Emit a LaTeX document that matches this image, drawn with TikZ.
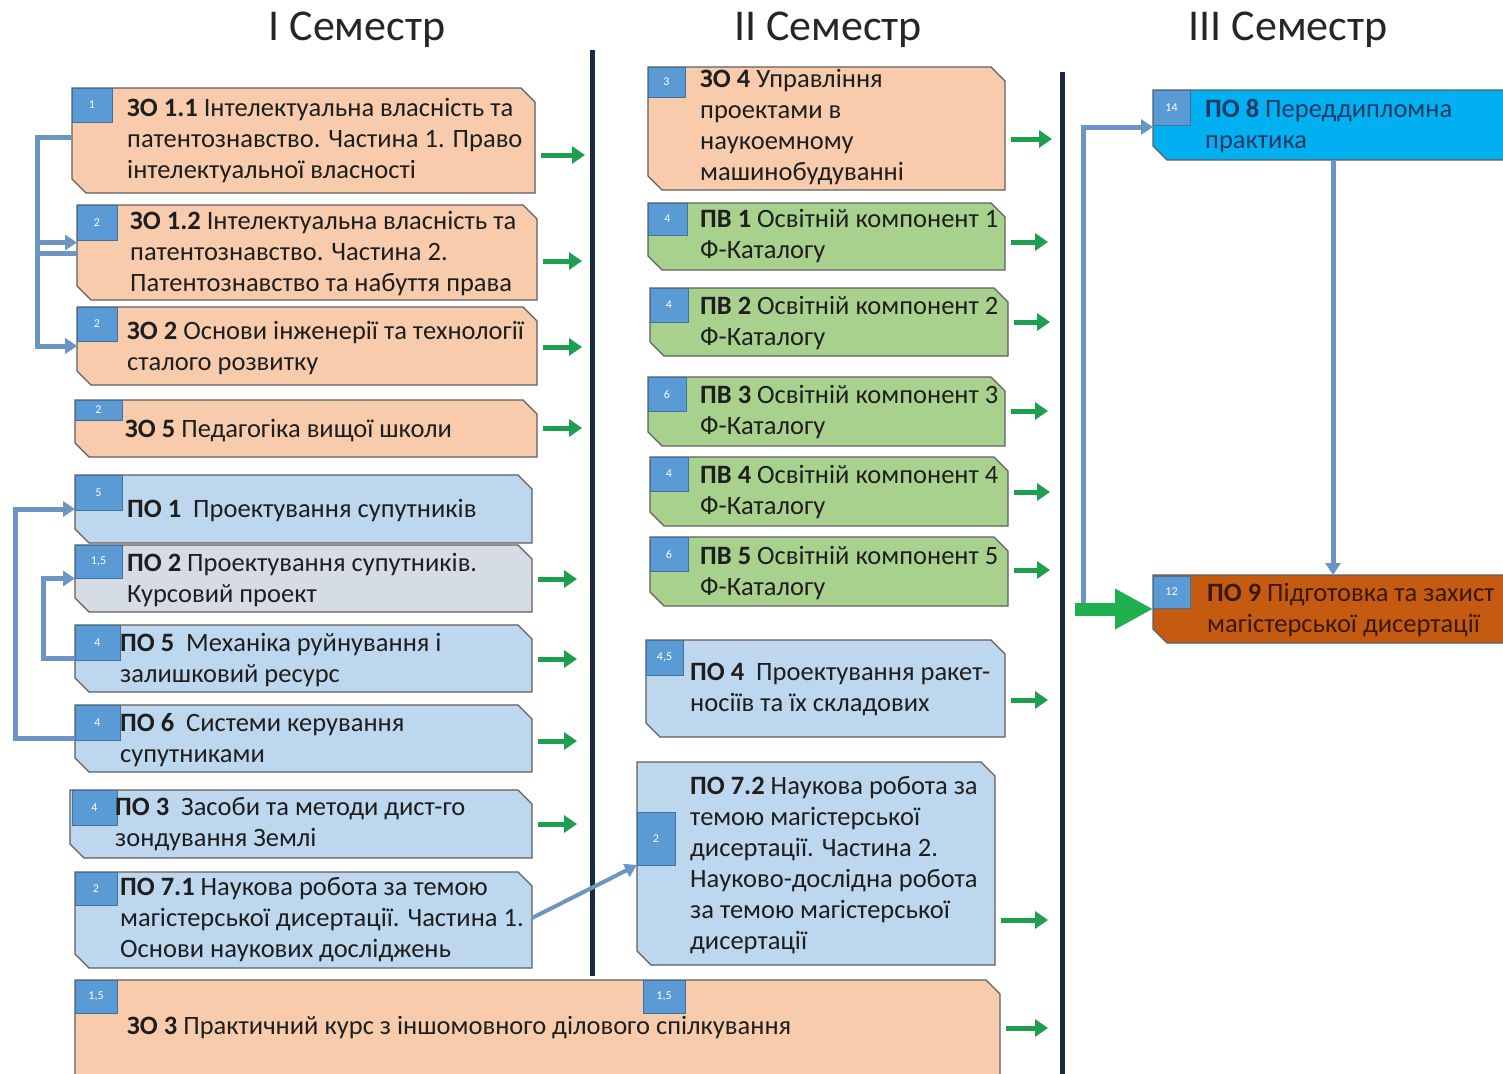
\documentclass[tikz,border=0pt]{standalone}
\usepackage{fontspec}
\setmainfont{Carlito}
\usetikzlibrary{arrows.meta,calc}
\definecolor{peach}{HTML}{F8CBAD}
\definecolor{poblue}{HTML}{BDD7EE}
\definecolor{pogrey}{HTML}{D5DCE5}
\definecolor{pvgreen}{HTML}{A9D18E}
\definecolor{brightblue}{HTML}{00B0F0}
\definecolor{darkorange}{HTML}{C55A11}
\definecolor{tabblue}{HTML}{5B9BD5}
\definecolor{tabedge}{HTML}{41719C}
\definecolor{edgegrey}{HTML}{5F5F5F}
\definecolor{connblue}{HTML}{6C95C3}
\definecolor{arrowgreen}{HTML}{1E9E4E}
\definecolor{biggreen}{HTML}{1DB04C}
\definecolor{dividercol}{HTML}{1B2A41}
\definecolor{txtdark}{HTML}{1E1E1E}
\definecolor{navytxt}{HTML}{1F3864}
\definecolor{browntxt}{HTML}{3A1804}
\tikzset{
 boxbase/.style={anchor=north west, inner sep=0pt, outer sep=0pt, draw=none},
 boxshape/.style={draw=edgegrey, line width=1.3pt, line join=miter},
 tabnode/.style={anchor=north west, inner sep=0pt, outer sep=0pt, fill=tabblue, draw=tabedge, line width=0.8pt, text=white, font=\fontsize{12}{12}\selectfont},
 txt/.style={anchor=west, inner sep=0pt, align=left, text=txtdark, font=\fontsize{26.5}{31}\selectfont},
 hdr/.style={inner sep=0pt, text=black!85, font=\fontsize{44}{48}\selectfont},
 garrow/.style={draw=arrowgreen, line width=5pt, -{Triangle[length=13pt,width=17pt]}},
 conn/.style={draw=connblue, line width=5pt, -{Triangle[length=12pt,width=15pt]}},
 thinconn/.style={draw=connblue, line width=4pt, -{Triangle[length=12pt,width=14pt]}},
 bigarrow/.style={draw=biggreen, line width=13pt, -{Triangle[length=38pt,width=38pt]}},
 divline/.style={draw=dividercol, line width=5pt},
}
\newcommand\chbox[6]{%
  \node[boxbase, minimum width=#4pt, minimum height=#5pt] (#1) at (#2,#3) {};
  \path[boxshape, fill=#6] (#1.north west) -- ([xshift=-14pt]#1.north east) -- ([yshift=-14pt]#1.north east) -- (#1.south east) -- ([xshift=14pt]#1.south west) -- ([yshift=14pt]#1.south west) -- cycle;}
\newcommand\tabbox[6]{%
  \node[tabnode, minimum width=#4pt, minimum height=#5pt] (#1) at (#2,#3) {#6};}
\newcommand\garr[3]{%
  \coordinate (#1e) at (#2,#3);
  \draw[garrow] (#1.east |- #1e) ++(6pt,0) -- (#1e);}
\begin{document}
\begin{tikzpicture}[x=1pt,y=-1pt]
\useasboundingbox (0,0) rectangle (1503,1073);
\clip (0,0) rectangle (1503,1073);
\fill[white] (0,0) rectangle (1503,1073);

% headers
\node[hdr] (h1) at (357,30) {I Семестр};
\node[hdr] (h2) at (828,30) {II Семестр};
\node[hdr] (h3) at (1288,30) {III Семестр};

% dividers
\coordinate (d1a) at (592,50); \coordinate (d1b) at (592,976);
\coordinate (d2a) at (1062,72); \coordinate (d2b) at (1062,1080);
\draw[divline] (d1a) -- (d1b);
\draw[divline] (d2a) -- (d2b);

% ---------- column 1 ----------
\chbox{b11}{72}{88}{463}{105}{peach}
\tabbox{t11}{72}{88}{40}{34}{1}
\node[txt] (x11) at (127,141) {\textbf{ЗО 1.1} Інтелектуальна власність та\\патентознавство. Частина 1. Право\\інтелектуальної власності};

\chbox{b12}{77}{205}{460}{95}{peach}
\tabbox{t12}{77}{205}{40}{35}{2}
\node[txt] (x12) at (130,254) {\textbf{ЗО 1.2} Інтелектуальна власність та\\патентознавство. Частина 2.\\Патентознавство та набуття права};

\chbox{b2}{77}{307}{460}{78}{peach}
\tabbox{t2}{77}{307}{40}{34}{2}
\node[txt] (x2) at (127,348) {\textbf{ЗО 2} Основи інженерії та технології\\сталого розвитку};

\chbox{b5}{75}{400}{462}{57}{peach}
\tabbox{t5}{75}{400}{47}{20}{2}
\node[txt] (x5) at (125,431) {\textbf{ЗО 5} Педагогіка вищої школи};

\chbox{p1}{75}{475}{457}{68}{poblue}
\tabbox{tp1}{75}{475}{47}{35}{5}
\node[txt] (xp1) at (127,511) {\textbf{ПО 1}\ \ Проектування супутників};

\chbox{p2}{75}{545}{457}{67}{pogrey}
\tabbox{tp2}{75}{545}{47}{33}{1,5}
\node[txt] (xp2) at (127,580) {\textbf{ПО 2} Проектування супутників.\\Курсовий проект};

\chbox{p5}{75}{625}{457}{67}{poblue}
\tabbox{tp5}{75}{625}{45}{35}{4}
\node[txt] (xp5) at (120,660) {\textbf{ПО 5}\ \ Механіка руйнування і\\залишковий ресурс};

\chbox{p6}{75}{705}{457}{67}{poblue}
\tabbox{tp6}{75}{705}{45}{35}{4}
\node[txt] (xp6) at (120,740) {\textbf{ПО 6}\ \ Системи керування\\супутниками};

\chbox{p3}{70}{790}{462}{68}{poblue}
\tabbox{tp3}{72}{790}{45}{35}{4}
\node[txt] (xp3) at (115,824) {\textbf{ПО 3}\ \ Засоби та методи дист-го\\зондування Землі};

\chbox{p71}{75}{872}{457}{96}{poblue}
\tabbox{tp71}{75}{872}{42}{33}{2}
\node[txt] (xp71) at (120,920) {\textbf{ПО 7.1} Наукова робота за темою\\магістерської дисертації. Частина 1.\\Основи наукових досліджень};

\chbox{z3}{75}{980}{925}{110}{peach}
\tabbox{tz3a}{75}{980}{42}{33}{1,5}
\tabbox{tz3b}{643}{980}{42}{33}{1,5}
\node[txt] (xz3) at (127,1028) {\textbf{ЗО 3} Практичний курс з іншомовного ділового спілкування};

% ---------- column 2 ----------
\chbox{z4}{648}{67}{357}{123}{peach}
\tabbox{tz4}{648}{67}{37}{30}{3}
\node[txt] (xz4) at (700,127) {\textbf{ЗО 4} Управління\\проектами в\\наукоемному\\машинобудуванні};

\chbox{v1}{648}{203}{357}{67}{pvgreen}
\tabbox{tv1}{648}{203}{39}{32}{4}
\node[txt] (xv1) at (700,236) {\textbf{ПВ 1} Освітній компонент 1\\Ф-Каталогу};

\chbox{v2}{650}{288}{358}{68}{pvgreen}
\tabbox{tv2}{650}{288}{38}{34}{4}
\node[txt] (xv2) at (700,323) {\textbf{ПВ 2} Освітній компонент 2\\Ф-Каталогу};

\chbox{v3}{648}{377}{357}{69}{pvgreen}
\tabbox{tv3}{648}{377}{38}{34}{6}
\node[txt] (xv3) at (700,412) {\textbf{ПВ 3} Освітній компонент 3\\Ф-Каталогу};

\chbox{v4}{650}{457}{358}{69}{pvgreen}
\tabbox{tv4}{650}{457}{38}{34}{4}
\node[txt] (xv4) at (700,492) {\textbf{ПВ 4} Освітній компонент 4\\Ф-Каталогу};

\chbox{v5}{650}{537}{358}{69}{pvgreen}
\tabbox{tv5}{650}{537}{38}{34}{6}
\node[txt] (xv5) at (700,573) {\textbf{ПВ 5} Освітній компонент 5\\Ф-Каталогу};

\chbox{p4}{646}{640}{359}{97}{poblue}
\tabbox{tp4}{646}{640}{37}{35}{4,5}
\node[txt] (xp4) at (690,689) {\textbf{ПО 4}\ \ Проектування ракет-\\носіїв та їх складових};

\chbox{p72}{637}{762}{358}{203}{poblue}
\tabbox{tp72}{637}{812}{38}{53}{2}
\node[txt] (xp72) at (690,865) {\textbf{ПО 7.2} Наукова робота за\\темою магістерської\\дисертації. Частина 2.\\Науково-дослідна робота\\за темою магістерської\\дисертації};

% ---------- column 3 ----------
\chbox{p8}{1153}{90}{370}{70}{brightblue}
\tabbox{tp8}{1153}{90}{37}{35}{14}
\node[txt, text=navytxt] (xp8) at (1205,126) {\textbf{ПО 8} Переддипломна\\практика};

\chbox{p9}{1153}{575}{370}{68}{darkorange}
\tabbox{tp9}{1153}{576}{37}{32}{12}
\node[txt, text=browntxt] (xp9) at (1207,610) {\textbf{ПО 9} Підготовка та захист\\магістерської дисертації};

% ---------- green outgoing arrows ----------
\garr{b11}{585}{155}
\garr{b12}{582}{261}
\garr{b2}{582}{347}
\garr{b5}{582}{428}
\garr{p2}{577}{579}
\garr{p5}{577}{659}
\garr{p6}{577}{741}
\garr{p3}{577}{824}
\garr{z3}{1048}{1028}
\garr{z4}{1052}{139}
\garr{v1}{1048}{242}
\garr{v2}{1050}{322}
\garr{v3}{1048}{411}
\garr{v4}{1050}{492}
\garr{v5}{1050}{570}
\garr{p4}{1048}{700}
\garr{p72}{1048}{920}

% ---------- blue connectors, column 1 ----------
\coordinate (lx) at (37,0);
\coordinate (b11o) at ([yshift=3.5pt]b11.west);
\coordinate (b12i) at ([yshift=10pt]b12.west);
\coordinate (b12o) at ([yshift=-1pt]b12.west);
\draw[conn] (b11o) -- (b11o -| lx) |- (b12i);
\draw[conn] (b11o) -- (b11o -| lx) |- (b2.west);
\draw[conn] (b12o) -- (b12o -| lx) |- (b2.west);

\coordinate (lx2) at (15,0);
\coordinate (lx3) at (43,0);
\draw[conn] (p6.west) -- (p6.west -| lx2) |- (p1.west);
\draw[conn] (p5.west) -- (p5.west -| lx3) |- (p2.west);

\draw[thinconn] ([yshift=2pt]p71.east) -- (tp72.south west);

% ---------- column 3 connectors ----------
\coordinate (jn) at (1083,604);
\draw[conn] (jn) |- ([yshift=-2pt]p8.west);
\draw[conn] ([xshift=-5pt]p8.south) -- ([xshift=-5pt]p9.north);
\coordinate (gs) at (1075,609);
\draw[bigarrow] (gs) -- (p9.west);
\end{tikzpicture}
\end{document}
